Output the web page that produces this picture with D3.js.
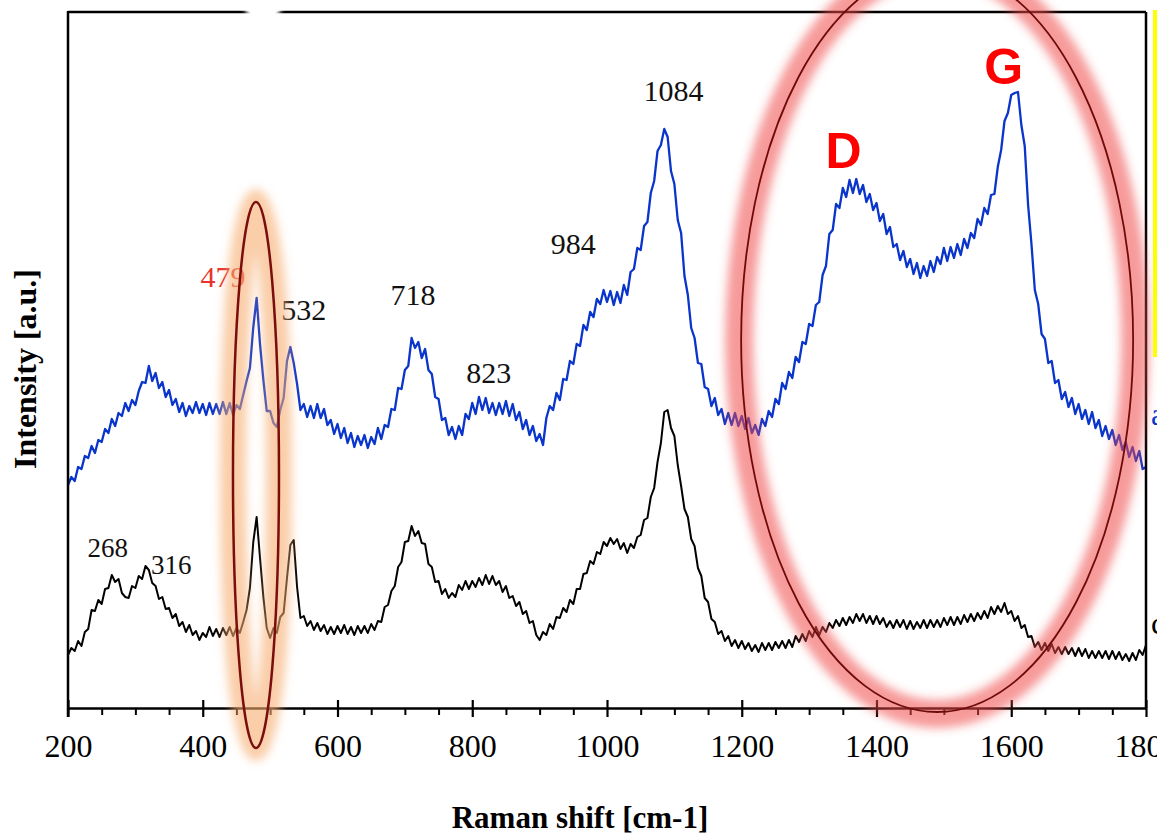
<!DOCTYPE html>
<html>
<head>
<meta charset="utf-8">
<script src="https://cdn.jsdelivr.net/npm/d3@7/dist/d3.min.js"></script>
<style>
  html, body { margin: 0; padding: 0; background: #fff; }
  svg { display: block; }
  .serif { font-family: "Liberation Serif", "Times New Roman", serif; }
  .sans { font-family: "Liberation Sans", Arial, sans-serif; }
</style>
</head>
<body>
<svg id="chart" width="1157" height="835"></svg>
<script>
// Raman shift grid (cm-1), one reading every 5 cm-1
const shiftStart = 200, shiftStep = 5;

// Upper spectrum (blue), intensity in a.u.
const blueSpectrum = [
  225,233,229,243,241,254,252,264,257,270,
  268,281,277,291,284,297,294,307,299,310,
  305,319,328,327,344,329,337,322,328,313,
  320,305,311,298,307,294,304,297,308,297,
  306,295,307,296,306,296,308,296,307,295,
  305,301,315,329,342,383,412,366,330,299,
  299,287,283,300,312,349,363,347,326,300,
  306,293,304,292,306,292,301,285,290,276,
  286,272,282,267,277,263,274,265,275,262,
  273,266,282,271,285,283,301,300,322,321,
  340,344,372,362,368,352,361,340,336,313,
  311,290,292,275,283,271,284,275,296,291,
  307,296,313,300,312,297,307,295,307,296,
  309,294,306,290,298,281,290,275,284,269,
  276,265,292,304,300,317,310,331,330,349,
  346,366,364,385,380,398,393,411,406,420,
  408,419,405,418,407,425,415,438,441,462,
  460,484,488,517,529,559,565,581,573,539,
  526,490,477,434,415,382,372,347,346,323,
  321,304,312,295,301,286,297,285,297,284,
  294,281,292,277,285,275,291,284,299,293,
  311,306,327,321,338,332,353,348,368,366,
  386,384,405,408,435,444,476,480,506,502,
  522,513,530,517,531,516,525,508,516,500,
  507,489,496,476,483,463,466,450,459,443,
  451,436,447,432,444,434,449,438,453,446,
  462,449,463,452,466,455,471,462,477,472,
  491,485,502,496,515,516,543,560,589,597,
  615,617,618,585,564,505,466,420,406,376,
  371,347,349,327,330,311,318,303,312,296,
  306,291,300,286,298,282,290,274,284,271,
  280,265,275,260,268,253,263,249,259,241,
  243
];

// Lower spectrum (black), intensity in a.u.
const blackSpectrum = [
  55,62,59,69,64,78,81,100,99,110,
  106,121,122,135,128,131,117,113,112,124,
  122,134,131,144,140,127,124,111,113,101,
  102,92,96,84,88,78,85,75,79,70,
  77,73,83,74,81,73,82,75,83,74,
  82,77,88,100,122,168,193,152,113,82,
  72,82,77,93,97,132,165,170,123,92,
  94,84,89,80,87,79,85,76,83,76,
  84,77,85,76,83,75,84,77,84,77,
  86,80,89,88,103,105,119,124,143,148,
  168,169,184,174,179,167,166,146,143,128,
  129,116,121,112,117,113,125,120,129,121,
  129,123,132,125,135,126,134,125,129,118,
  124,112,114,104,108,96,99,87,89,75,
  70,78,75,86,81,93,92,102,98,110,
  106,121,121,136,137,149,146,158,156,168,
  164,172,166,171,161,167,157,166,162,173,
  175,190,192,213,222,248,267,298,300,282,
  274,245,224,201,193,171,164,142,134,112,
  108,91,88,76,79,69,74,64,70,62,
  69,61,67,59,65,58,67,60,67,60,
  68,62,69,62,70,63,74,68,76,69,
  79,73,83,75,83,78,87,82,90,84,
  92,85,93,87,96,89,96,87,94,86,
  94,86,92,83,89,82,90,83,90,81,
  89,81,88,82,90,82,90,83,90,83,
  92,85,93,85,93,86,95,88,96,89,
  97,91,99,92,103,96,104,98,107,96,
  99,89,94,82,85,73,74,63,68,60,
  67,59,66,57,63,56,63,56,62,54,
  62,54,61,52,59,52,59,52,59,51,
  59,51,58,50,56,49,57,50,60,55,
  65
];

// Axis ticks
const majorTicks = [200, 400, 600, 800, 1000, 1200, 1400, 1600, 1800];
const minorTicks = d3.range(250, 1800, 50).filter(v => v % 200 !== 0);

// Peak annotations: label, shift (cm-1), intensity where the label sits
const peakLabels   = ["268", "316", "479", "532", "718", "823", "984", "1084"];
const peakShifts   = [268, 316, 479, 532, 718, 823, 984, 1084];
const peakLabelInt = [153, 136, 423, 390, 405, 327, 456, 609];

// Band labels
const bandLabels   = ["D", "G"];
const bandShifts   = [1360, 1605];
const bandLabelInt = [542, 626];

const svg = d3.select("#chart");
const W = 1157, H = 835;
const plot = { left: 68, right: 1146, top: 12, bottom: 708 };

const x = d3.scaleLinear().domain([200, 1800]).range([plot.left, plot.right]);
const y = d3.scaleLinear().domain([0, 700]).range([710, 10]);

svg.append("rect").attr("width", W).attr("height", H).attr("fill", "#fff");

const defs = svg.append("defs");
defs.append("filter").attr("id", "glow")
  .attr("filterUnits", "userSpaceOnUse")
  .attr("x", 0).attr("y", -200).attr("width", W).attr("height", H + 400)
  .append("feGaussianBlur").attr("stdDeviation", 5);
defs.append("filter").attr("id", "soft")
  .attr("filterUnits", "userSpaceOnUse")
  .attr("x", 0).attr("y", -50).attr("width", W).attr("height", 200)
  .append("feGaussianBlur").attr("stdDeviation", 2);

// spectra
const toPoints = arr => arr.map((v, i) => [shiftStart + i * shiftStep, v]);
const line = d3.line().x(d => x(d[0])).y(d => y(d[1]));

svg.append("path").datum(toPoints(blackSpectrum))
  .attr("d", line).attr("fill", "none")
  .attr("stroke", "#000").attr("stroke-width", 2).attr("stroke-linejoin", "round");
svg.append("path").datum(toPoints(blueSpectrum))
  .attr("d", line).attr("fill", "none")
  .attr("stroke", "#0a35cc").attr("stroke-width", 2.3).attr("stroke-linejoin", "round");

// frame
const frame = svg.append("g").attr("fill", "none").attr("stroke", "#000").attr("stroke-width", 2.5);
frame.append("line").attr("x1", plot.left).attr("x2", plot.left).attr("y1", plot.top - 1).attr("y2", plot.bottom + 9);
frame.append("line").attr("x1", plot.left).attr("x2", plot.right).attr("y1", plot.top).attr("y2", plot.top);
frame.append("line").attr("x1", plot.right).attr("x2", plot.right).attr("y1", plot.top).attr("y2", plot.bottom);

// x axis: minor ticks below, major ticks crossing the line
const minorAxis = d3.axisBottom(x).tickValues(minorTicks).tickSize(7).tickFormat("");
const gMinor = svg.append("g").attr("transform", `translate(0,${plot.bottom})`).call(minorAxis);
gMinor.select(".domain").remove();
gMinor.selectAll(".tick line").attr("stroke", "#000").attr("stroke-width", 2);

const majorAxis = d3.axisBottom(x).tickValues(majorTicks).tickSizeInner(9).tickSizeOuter(0)
  .tickPadding(17).tickFormat(d3.format("d"));
const gMajor = svg.append("g").attr("transform", `translate(0,${plot.bottom})`).call(majorAxis);
gMajor.select(".domain").attr("stroke", "#000").attr("stroke-width", 2.5);
gMajor.selectAll(".tick line").attr("y1", -8).attr("stroke", "#000").attr("stroke-width", 2.2);
gMajor.selectAll(".tick text")
  .attr("class", "serif").attr("font-size", 32).attr("fill", "#000");

// axis titles
svg.append("text").attr("class", "serif")
  .attr("x", 580).attr("y", 828).attr("text-anchor", "middle")
  .attr("font-size", 31).attr("font-weight", "bold").attr("fill", "#000")
  .text("Raman shift [cm-1]");
svg.append("text").attr("class", "serif")
  .attr("transform", "translate(36,369) rotate(-90)").attr("text-anchor", "middle")
  .attr("font-size", 32).attr("font-weight", "bold").attr("fill", "#000")
  .text("Intensity [a.u.]");

// peak labels
const labelDx = [-6, 25, -33, 12, -4, 1, -23, 10];
peakLabels.forEach((t, i) => {
  const small = (t === "268" || t === "316");
  svg.append("text").attr("class", "serif")
    .attr("x", x(peakShifts[i]) + labelDx[i]).attr("y", y(peakLabelInt[i]))
    .attr("text-anchor", "middle")
    .attr("font-size", small ? 27 : 30)
    .attr("fill", t === "479" ? "#e8332f" : "#111")
    .text(t);
});

// D and G bands
bandLabels.forEach((t, i) => {
  svg.append("text").attr("class", "sans")
    .attr("x", x(bandShifts[i]) - (i === 0 ? 6 : 11)).attr("y", y(bandLabelInt[i]))
    .attr("text-anchor", "middle")
    .attr("font-size", 50).attr("font-weight", "bold").attr("fill", "#ff0000")
    .text(t);
});

// highlight around the 479 / 532 doublet
const hl1 = { cx: x(479), cy: 475, rx: 23, ry: 273 };
svg.append("ellipse").attr("cx", hl1.cx).attr("cy", hl1.cy).attr("rx", hl1.rx).attr("ry", hl1.ry)
  .attr("fill", "none").attr("stroke", "#f6ad70").attr("stroke-width", 26)
  .attr("stroke-opacity", 0.6).attr("filter", "url(#glow)");
svg.append("ellipse").attr("cx", hl1.cx).attr("cy", hl1.cy).attr("rx", hl1.rx).attr("ry", hl1.ry)
  .attr("fill", "none").attr("stroke", "#7a0d0d").attr("stroke-width", 2.5);

// highlight around the D and G bands
const hl2 = { cx: x(1490), cy: 340, rx: 196, ry: 372 };
svg.append("ellipse").attr("cx", hl2.cx).attr("cy", hl2.cy).attr("rx", hl2.rx + 2).attr("ry", hl2.ry + 2)
  .attr("fill", "none").attr("stroke", "#f04848").attr("stroke-width", 28)
  .attr("stroke-opacity", 0.55).attr("filter", "url(#glow)");
svg.append("ellipse").attr("cx", hl2.cx).attr("cy", hl2.cy).attr("rx", hl2.rx).attr("ry", hl2.ry)
  .attr("fill", "none").attr("stroke", "#6e0a0a").attr("stroke-width", 1.8);

// white patch over the top border
svg.append("path").attr("d", "M236,-4 L290,-4 L263,38 Z")
  .attr("fill", "#fff").attr("filter", "url(#soft)");
svg.append("path").attr("d", "M240,-4 L286,-4 L263,32 Z").attr("fill", "#fff");

// yellow box edge at the right
svg.append("line").attr("x1", 1155).attr("x2", 1155).attr("y1", 10).attr("y2", 357)
  .attr("stroke", "#ffff00").attr("stroke-width", 4);

// trace tags cut by the page edge
svg.append("text").attr("class", "serif").attr("x", 1151).attr("y", 425)
  .attr("font-size", 32).attr("fill", "#0a35cc").text("a");
svg.append("text").attr("class", "serif").attr("x", 1151).attr("y", 634)
  .attr("font-size", 32).attr("fill", "#000").text("c");
</script>
</body>
</html>
